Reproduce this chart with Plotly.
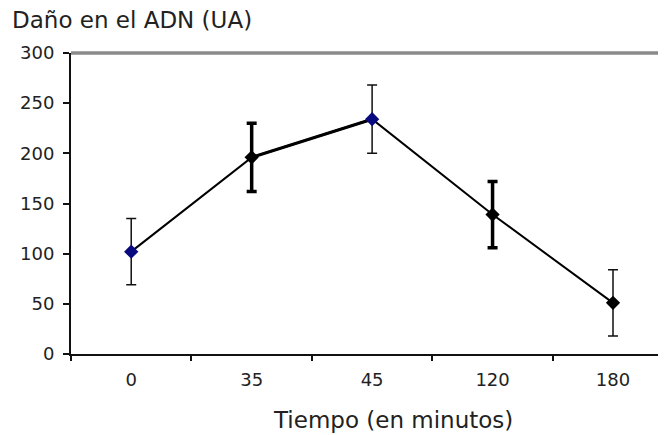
import plotly.graph_objects as go

categories = ["0", "35", "45", "120", "180"]
values = [102, 196, 234, 139, 51]
errors = [33, 34, 34, 33, 33]
thick_err = [False, True, False, True, False]
marker_colors = ["#0a0a80", "#000000", "#0a0a80", "#000000", "#000000"]
y_ticks = [0, 50, 100, 150, 200, 250, 300]

TEXT = "#222222"
fig = go.Figure()

thin_y = [v if not t else None for v, t in zip(values, thick_err)]
thin_e = [e if not t else None for e, t in zip(errors, thick_err)]
thick_y = [v if t else None for v, t in zip(values, thick_err)]
thick_e = [e if t else None for e, t in zip(errors, thick_err)]

fig.add_trace(go.Scatter(
    x=categories, y=thin_y, mode="markers",
    marker=dict(size=1, color="rgba(0,0,0,0)"),
    error_y=dict(type="data", array=thin_e, visible=True, color="#111", thickness=1.5, width=5),
    hoverinfo="skip", showlegend=False))
fig.add_trace(go.Scatter(
    x=categories, y=thick_y, mode="markers",
    marker=dict(size=1, color="rgba(0,0,0,0)"),
    error_y=dict(type="data", array=thick_e, visible=True, color="#000", thickness=3.5, width=5),
    hoverinfo="skip", showlegend=False))
fig.add_trace(go.Scatter(
    x=categories, y=values, mode="lines",
    line=dict(color="#000", width=2),
    hoverinfo="skip", showlegend=False))
fig.add_trace(go.Scatter(
    x=categories[1:3], y=values[1:3], mode="lines",
    line=dict(color="#000", width=3),
    hoverinfo="skip", showlegend=False))
fig.add_trace(go.Scatter(
    x=categories, y=values, mode="markers",
    marker=dict(symbol="diamond", size=11, color=marker_colors, line=dict(width=0)),
    showlegend=False))

fig.add_shape(type="line", xref="paper", yref="paper", x0=0, x1=1, y0=1, y1=1,
              line=dict(color="#8a8a8a", width=3.5))

PLOT_L, PLOT_W = 63, 595
fig.update_layout(
    width=658, height=427,
    margin=dict(l=PLOT_L, r=0, t=45, b=81),
    paper_bgcolor="white", plot_bgcolor="white",
    font=dict(family="DejaVu Sans", size=18, color=TEXT),
    annotations=[
        dict(text="Daño en el ADN (UA)", xref="paper", yref="paper",
             x=(2 - PLOT_L) / PLOT_W, y=1, xanchor="left", yanchor="middle", yshift=33,
             showarrow=False, font=dict(size=23, color=TEXT)),
        dict(text="Tiempo (en minutos)", xref="paper", yref="paper",
             x=(385 - PLOT_L) / PLOT_W, y=0, xanchor="center", yanchor="middle", yshift=-66,
             showarrow=False, font=dict(size=23, color=TEXT)),
    ],
)
fig.update_xaxes(
    type="category", range=[-0.5, 4.44],
    showline=True, linecolor="#111", linewidth=2,
    ticks="outside", tickson="boundaries", ticklen=5, tickwidth=1.5, tickcolor="#111",
    ticklabelstandoff=8, tickfont=dict(family="DejaVu Sans", size=18, color=TEXT),
    showgrid=False, zeroline=False,
)
fig.update_yaxes(
    range=[0, 300], tickvals=y_ticks,
    showline=True, linecolor="#111", linewidth=2,
    ticks="outside", ticklen=6, tickwidth=1.5, tickcolor="#111",
    ticklabelstandoff=5, tickfont=dict(family="DejaVu Sans", size=18, color=TEXT),
    showgrid=False, zeroline=False,
)

fig.write_html("out.html")
